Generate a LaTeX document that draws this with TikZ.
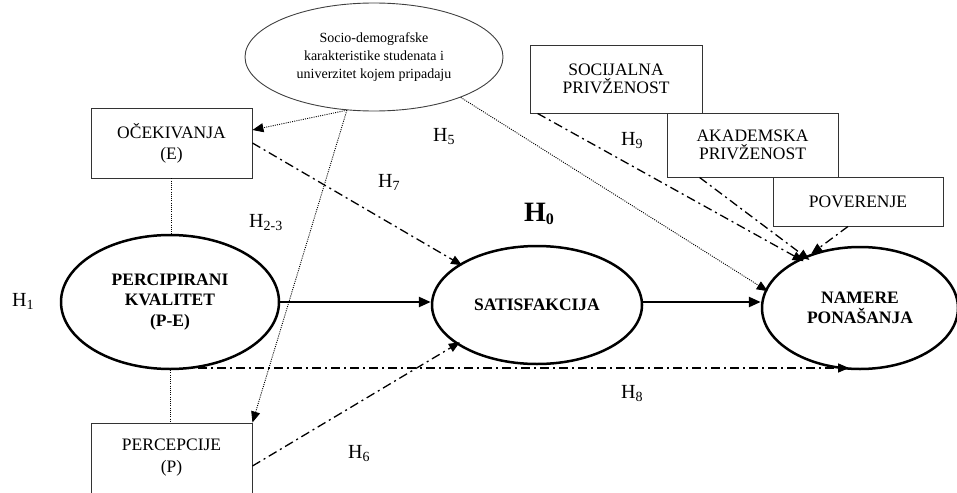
\documentclass[tikz,border=0pt]{standalone}
\usepackage{fontspec}
\setmainfont{Liberation Serif}
\usetikzlibrary{arrows.meta,shapes.geometric}
% hypothesis label: H with a lowered index
\newcommand{\hlab}[1]{H\raisebox{-3pt}{\fontsize{14}{14}\selectfont #1}}
\begin{document}
\begin{tikzpicture}[x=1pt,y=-1pt,
  construct/.style={ellipse,draw=black,line width=2.5pt,fill=white,inner sep=0pt,align=center,
    font=\bfseries\fontsize{17.5}{20.5}\selectfont},
  varbox/.style={rectangle,draw=black!80,line width=0.9pt,fill=white,inner sep=0pt,align=center,
    font=\fontsize{17.5}{21}\selectfont},
  hyp/.style={inner sep=0pt,anchor=base west,font=\fontsize{20}{20}\selectfont},
  tip/.style={-{Triangle[length=11pt,width=9pt]}},
  dotlink/.style={line width=0.9pt,dash pattern=on 1pt off 1.2pt},
  dashdotlink/.style={line width=1.3pt,dash pattern=on 9pt off 4pt on 2pt off 4pt},
  mainlink/.style={line width=2.5pt,-{Triangle[length=12pt,width=10pt]}}
]
\useasboundingbox (0,0) rectangle (957,492);
\clip (0,0) rectangle (957,492);

% context ellipse
\node[ellipse,draw=black!75,line width=0.9pt,fill=white,minimum width=258pt,minimum height=108pt,
  inner sep=0pt,align=center,font=\fontsize{14}{18}\selectfont] (ctx) at (374,57)
  {Socio-demografske\\karakteristike studenata i\\univerzitet kojem pripadaju};

% constructs
\node[construct,minimum width=218pt,minimum height=134pt] (perc) at (170,302) {PERCIPIRANI\\KVALITET\\(P-E)};
\node[construct,minimum width=210pt,minimum height=118pt] (sat) at (537,305) {SATISFAKCIJA};
\node[construct,minimum width=196pt,minimum height=122pt] (nam) at (860,308) {NAMERE\\PONAŠANJA};

% measured variables
\node[varbox,minimum width=161pt,minimum height=70pt] (oce) at (171.5,143) {OČEKIVANJA\\(E)};
\node[varbox,minimum width=161pt,minimum height=70pt,font=\fontsize{17.5}{22}\selectfont] (per) at (171.5,458) {PERCEPCIJE\\(P)};

% moderators
\node[varbox,minimum width=172pt,minimum height=68pt,font=\fontsize{17.5}{17.5}\selectfont] (socp) at (616,79) {SOCIJALNA\\PRIVŽENOST};
\node[varbox,minimum width=171pt,minimum height=64pt,font=\fontsize{17.5}{18.5}\selectfont] (aka) at (752.5,145) {AKADEMSKA\\PRIVŽENOST};
\node[varbox,minimum width=170pt,minimum height=49pt] (pov) at (858,201.5) {POVERENJE};

% dotted links
\draw[dotlink,tip] (ctx.-117) -- ([yshift=13pt]oce.east);
\draw[dotlink,tip] (ctx.-117) -- (per.north east);
\draw[dotlink,tip,shorten >=-3pt] (ctx.-25) -- (nam.169);
\draw[dotlink] (oce.south) -- (oce.south |- perc.north);
\draw[dotlink] (perc.south) -- (perc.south |- per.north);

% dash-dot hypotheses
\draw[dashdotlink,tip,shorten >=-3pt] (oce.east) -- (sat.152);
\draw[dashdotlink,tip,shorten >=-4pt] ([yshift=-8pt]per.east) -- (sat.-154);
\draw[dashdotlink,tip] (perc.-67) -- (perc.-67 -| nam.-100);
\draw[dashdotlink,tip,shorten >=-5pt] ([xshift=8pt]socp.south west) -- (nam.141);
\draw[dashdotlink,tip,shorten >=-6pt] ([xshift=33pt]aka.south west) -- (nam.137);
\draw[dashdotlink,tip] ([xshift=-10pt]pov.south) -- (nam.132);

% main path
\draw[mainlink] (perc.east) -- (perc.east -| sat.west);
\draw[mainlink] (sat.east |- perc.east) -- (perc.east -| nam.west);

% hypothesis labels
\node[hyp] (h1) at (12,306) {\hlab{1}};
\node[hyp] (h23) at (249,227) {\hlab{2-3}};
\node[hyp] (h5) at (433,141) {\hlab{5}};
\node[hyp] (h7) at (378,187) {\hlab{7}};
\node[hyp,font=\bfseries\fontsize{28}{28}\selectfont] (h0) at (524,221) {H\raisebox{-3pt}{\fontsize{16}{16}\selectfont 0}};
\node[hyp] (h9) at (621,145) {\hlab{9}};
\node[hyp] (h6) at (348,458) {\hlab{6}};
\node[hyp] (h8) at (621,398) {\hlab{8}};
\end{tikzpicture}
\end{document}
